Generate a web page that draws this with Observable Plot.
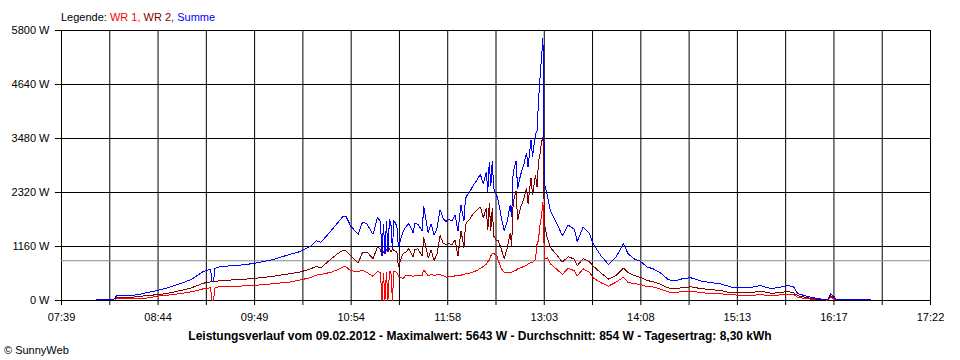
<!DOCTYPE html>
<html>
<head>
<meta charset="utf-8">
<script src="https://cdn.jsdelivr.net/npm/d3@7"></script>
<script src="https://cdn.jsdelivr.net/npm/@observablehq/plot@0.6"></script>
<style>
  html, body { margin: 0; padding: 0; background: #fff; overflow: hidden; }
  body { font-family: "Liberation Sans", Arial, sans-serif; color: #000; }
  #legend { height: 25px; box-sizing: border-box; padding: 10px 0 0 61px; font-size: 11px; line-height: 14px; white-space: nowrap; }
  #chart svg { display: block; }
  #caption { height: 40px; box-sizing: border-box; padding-top: 9px; line-height: 14px; }
  #caption .main { text-align: center; font-weight: bold; width: 960px; font-size: 12px; }
  #caption .copy { padding-left: 4px; font-size: 11px; }
</style>
</head>
<body>
<div id="legend"></div>
<div id="chart"></div>
<div id="caption"></div>
<script>
// ---- data ----
const dayDate = "09.02.2012";
const maxW = 5643;
const avgW = 854;
const yieldKWh = "8,30";

const xStart = "07:39";
const xEnd = "17:22";
const xTickLabels = ["07:39","08:44","09:49","10:54","11:58","13:03","14:08","15:13","16:17","17:22"];
const yTicks = [0, 1160, 2320, 3480, 4640, 5800];

const seriesNames = ["WR 1", "WR 2", "Summe"];
const seriesColors = ["#ff0000", "#800000", "#0000ff"];

const times = [
  "08:02","08:14","08:15","08:16","08:25","08:30","08:37","08:44","08:52","08:59",
  "09:06","09:14","09:19","09:20","09:21","09:22","09:26","09:39","09:48","10:01",
  "10:13","10:19","10:26","10:30","10:33","10:40","10:44","10:48","10:50","10:53",
  "10:58","11:01","11:04","11:08","11:11","11:13","11:14","11:15","11:16","11:17",
  "11:18","11:19","11:20","11:21","11:22","11:24","11:25","11:28","11:30","11:32",
  "11:35","11:36","11:38","11:41","11:42","11:45","11:47","11:49","11:51","11:53",
  "11:55","11:57","11:59","12:01","12:03","12:05","12:07","12:09","12:10","12:11",
  "12:13","12:15","12:18","12:20","12:22","12:24","12:25","12:26","12:27","12:28",
  "12:29","12:31","12:32","12:34","12:36","12:38","12:40","12:41","12:42","12:44",
  "12:45","12:47","12:49","12:51","12:52","12:54","12:55","12:57","12:58","12:59",
  "13:00","13:01","13:02","13:03","13:05","13:07","13:08","13:12","13:15","13:19",
  "13:23","13:25","13:29","13:33","13:36","13:41","13:46","13:51","13:56","13:59",
  "14:03","14:07","14:12","14:16","14:21","14:26","14:30","14:36","14:41","14:48",
  "14:54","15:01","15:08","15:15","15:21","15:28","15:35","15:41","15:46","15:50",
  "15:53","16:00","16:06","16:13","16:15","16:17","16:19","16:22","16:30","16:42"
];
const wr1 = [
  null,null,20,40,45,35,55,95,120,150,
  185,250,275,0,0,280,300,310,322,360,
  400,440,490,545,560,608,660,720,720,640,
  620,650,600,520,620,600,0,600,0,610,
  0,620,620,0,630,600,530,470,540,540,
  520,530,530,540,660,530,560,540,550,550,
  540,500,515,510,530,540,545,560,570,580,
  590,610,650,690,730,780,830,870,960,1000,
  1010,970,860,690,600,590,600,600,630,650,
  680,700,730,750,790,810,820,880,1200,1300,
  1620,1800,2110,880,920,788,760,650,560,690,
  640,530,680,610,480,380,310,393,500,390,
  365,345,300,290,245,185,170,195,200,170,
  150,145,125,110,110,125,105,120,135,140,
  65,35,15,10,70,40,10,null,null,null
];
const wr2 = [
  null,null,30,65,70,80,110,125,165,215,
  270,370,400,405,405,410,430,450,473,520,
  580,610,680,730,700,896,1000,1080,1060,960,
  800,1040,1040,900,1150,1100,960,1050,1000,1100,
  1040,1120,1050,1100,1080,1040,720,1000,1040,1110,
  930,1100,1110,960,1360,920,1080,860,1010,1400,
  1230,1200,1220,1200,1300,950,1500,1140,1620,1680,
  1750,1860,1950,2010,1780,1980,1510,2090,1500,1990,
  1380,1280,1290,1110,900,1120,1450,1180,2100,2350,
  1720,2000,2170,2420,2080,2640,2260,2700,2440,2980,
  3150,3400,3520,1650,1330,1145,1100,950,825,940,
  890,745,900,840,730,590,460,537,700,600,
  537,500,430,400,350,270,255,275,295,255,
  235,215,165,170,165,200,155,170,195,170,
  100,55,30,15,105,60,20,null,null,null
];
const summe = [
  20,25,50,110,115,120,175,220,290,365,
  450,620,670,410,410,690,730,760,795,880,
  1000,1050,1160,1280,1250,1504,1660,1810,1800,1600,
  1420,1690,1640,1420,1780,1700,960,1650,1000,1700,
  1050,1740,1650,1100,1720,1600,1150,1470,1580,1650,
  1450,1650,1640,1500,2030,1450,1650,1400,1560,1950,
  1760,1700,1740,1710,1830,1500,2050,1700,2190,2250,
  2340,2460,2600,2710,2500,2760,2340,2980,2450,3000,
  2400,2250,2150,1790,1500,1700,2050,1800,2750,3000,
  2400,2700,2900,3170,2870,3450,3080,3580,3640,4280,
  4770,5200,5643,2500,2250,1933,1860,1610,1390,1620,
  1530,1270,1580,1450,1200,960,770,930,1220,1010,
  896,850,720,680,590,450,420,470,490,420,
  385,360,290,280,280,320,255,285,320,300,
  145,85,40,20,145,90,25,15,15,15
];

// ---- build ----
const parseT = s => { const [h, m] = s.split(":").map(Number); return new Date(2012, 1, 9, h, m); };
const t0 = parseT(xStart), t1 = parseT(xEnd);
const nGrid = (xTickLabels.length - 1) * 2;
const xTickValues = d3.range(nGrid + 1).map(i => new Date(+t0 + i * (t1 - t0) / nGrid));
const xFmt = d => {
  const i = Math.round((d - t0) / (t1 - t0) * nGrid);
  return i % 2 === 0 ? xTickLabels[i / 2] : "";
};

const rows = times.map((t, i) => ({time: parseT(t), wr1: wr1[i], wr2: wr2[i], summe: summe[i]}));
const keys = ["wr1", "wr2", "summe"];

// legend (comma takes the colour of the preceding entry, as in the reference)
document.getElementById("legend").innerHTML = "Legende: " + seriesNames.map((n, i) =>
  `<span style="color:${seriesColors[i]}">${n}${i < seriesNames.length - 1 ? "," : ""}</span>`).join(" ");

const chart = Plot.plot({
  width: 960,
  height: 295,
  marginLeft: 61,
  marginRight: 30,
  marginTop: 5,
  marginBottom: 20,
  style: {fontFamily: "'Liberation Sans', Arial, sans-serif", fontSize: "11px", color: "#000", background: "#fff", overflow: "visible"},
  x: {type: "time", domain: [t0, t1], ticks: xTickValues, tickFormat: xFmt, tickSize: 5, tickPadding: 8, label: null},
  y: {domain: [0, 5800], ticks: yTicks, tickFormat: d => `${d} W`, tickSize: 6, tickPadding: 6, label: null},
  marks: [
    Plot.ruleX(xTickValues, {stroke: "#000", strokeWidth: 1}),
    Plot.ruleY(yTicks, {stroke: "#000", strokeWidth: 1}),
    Plot.ruleY([avgW], {stroke: "#8a8a8a", strokeWidth: 1}),
    ...keys.map((k, i) => Plot.line(rows.filter(d => d[k] != null), {
      x: "time", y: k, stroke: seriesColors[i], strokeWidth: 1,
      strokeLinejoin: "miter", strokeLinecap: "butt", shapeRendering: "crispEdges"
    }))
  ]
});
document.getElementById("chart").appendChild(chart);

// caption
document.getElementById("caption").innerHTML =
  `<div class="main">Leistungsverlauf vom ${dayDate} - Maximalwert: ${maxW} W - Durchschnitt: ${avgW} W - Tagesertrag: ${yieldKWh} kWh</div>` +
  `<div class="copy">© SunnyWeb</div>`;
</script>
</body>
</html>
